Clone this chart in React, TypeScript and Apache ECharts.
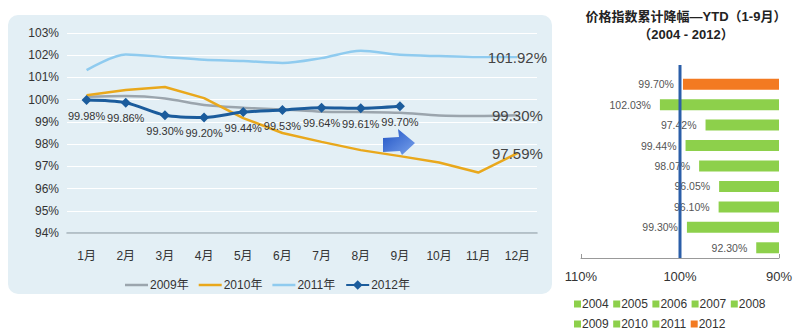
import React, { useEffect, useRef } from "react";
import * as echarts from "echarts";

const months = ["1月", "2月", "3月", "4月", "5月", "6月", "7月", "8月", "9月", "10月", "11月", "12月"];
const s2009 = [100.13, 100.16, 100.05, 99.76, 99.64, 99.56, 99.46, 99.44, 99.41, 99.29, 99.27, 99.3];
const s2010 = [100.2, 100.43, 100.57, 100.07, 99.17, 98.5, 98.1, 97.73, 97.46, 97.17, 96.72, 97.59];
const s2011 = [101.33, 102.03, 101.92, 101.8, 101.74, 101.65, 101.87, 102.2, 102.02, 101.96, 101.92, 101.92];
const s2012 = [99.98, 99.86, 99.3, 99.2, 99.44, 99.53, 99.64, 99.61, 99.7];
const lineNames = ["2009年", "2010年", "2011年", "2012年"];

const years = ["2004", "2005", "2006", "2007", "2008", "2009", "2010", "2011", "2012"];
const ytdValues = [92.3, 99.3, 96.1, 96.05, 98.07, 99.44, 97.42, 102.03, 99.7];
const yAxisTicks = [94, 103];
const barAxisTicks = [90, 110];

const pct = (v: number) => v.toFixed(2) + "%";

export default function App() {
  const ref = useRef<HTMLDivElement>(null);
  useEffect(() => {
    if (!ref.current) return;
    const chart = echarts.init(ref.current, undefined, { renderer: "svg" });
    const font = "Arial, 'Liberation Sans', 'Noto Sans CJK SC', sans-serif";

    const endLabelData = (arr: number[]) =>
      arr.map((v, i) =>
        i === arr.length - 1
          ? {
              value: v,
              symbol: "circle",
              symbolSize: 0.01,
              label: {
                show: true,
                position: "inside",
                formatter: (p: any) => pct(p.value),
                fontSize: 15,
                color: "#444",
                fontFamily: font,
              },
            }
          : v
      );

    const lineSeries: any[] = [
      {
        name: lineNames[0],
        type: "line",
        xAxisIndex: 0,
        yAxisIndex: 0,
        data: endLabelData(s2009),
        smooth: 0.3,
        symbol: "none",
        showSymbol: true,
        lineStyle: { color: "#9ba5ad", width: 2.5 },
        itemStyle: { color: "#9ba5ad" },
        z: 3,
      },
      {
        name: lineNames[1],
        type: "line",
        xAxisIndex: 0,
        yAxisIndex: 0,
        data: endLabelData(s2010),
        symbol: "none",
        showSymbol: true,
        lineStyle: { color: "#e9a81c", width: 2.5 },
        itemStyle: { color: "#e9a81c" },
        z: 3,
      },
      {
        name: lineNames[2],
        type: "line",
        xAxisIndex: 0,
        yAxisIndex: 0,
        data: endLabelData(s2011),
        smooth: 0.3,
        symbol: "none",
        showSymbol: true,
        lineStyle: { color: "#8fcbef", width: 2.5 },
        itemStyle: { color: "#8fcbef" },
        z: 3,
      },
      {
        name: lineNames[3],
        type: "line",
        xAxisIndex: 0,
        yAxisIndex: 0,
        data: s2012,
        smooth: 0.3,
        symbol: "diamond",
        symbolSize: 10,
        lineStyle: { color: "#1b5c9c", width: 3 },
        itemStyle: { color: "#1b5c9c" },
        label: {
          show: true,
          position: "bottom",
          distance: 5,
          formatter: (p: any) => pct(p.value),
          fontSize: 11,
          color: "#333",
          fontFamily: font,
        },
        z: 4,
      },
    ];

    const barSeries: any[] = years.map((y, i) => ({
      name: y,
      type: "bar",
      xAxisIndex: 1,
      yAxisIndex: 1,
      barWidth: 11,
      barGap: "-100%",
      clip: true,
      data: years.map((_, j) => (j === i ? ytdValues[i] : "-")),
      itemStyle: { color: y === "2012" ? "#f37a21" : "#8dd04b" },
      label: {
        show: true,
        position: "left",
        distance: 9,
        formatter: (p: any) => pct(p.value),
        fontSize: 10.5,
        color: "#555",
        fontFamily: font,
      },
      z: 2,
    }));

    const baseGraphic: any[] = [
      {
        type: "rect",
        z: -10,
        shape: { x: 8, y: 15, width: 544, height: 279, r: 10 },
        style: { fill: "#e3eff5" },
      },
      {
        type: "polygon",
        z: 10,
        shape: {
          points: [
            [383, 138],
            [399, 137],
            [398, 129],
            [415, 143],
            [402, 155],
            [400, 151],
            [383, 152],
          ],
        },
        style: {
          fill: new echarts.graphic.LinearGradient(0, 0, 1, 1, [
            { offset: 0, color: "#1f52c4" },
            { offset: 1, color: "#7aa3ec" },
          ]),
        },
      },
    ];

    const lineIcon = "path://M0 0H23V2.5H0Z";
    const lineLegendData = lineNames.map((n, i) => (i < 3 ? { name: n, icon: lineIcon } : { name: n }));

    const barLegend = (names: string[], top: number) => ({
      data: names,
      left: 569,
      top,
      icon: "rect",
      itemWidth: 7,
      itemHeight: 7,
      itemGap: 4.5,
      textStyle: { color: "#333", fontSize: 12, fontFamily: font, padding: [0, 0, 0, -4] },
    });

    const option: any = {
      animation: false,
      backgroundColor: "#ffffff",
      textStyle: { fontFamily: font },
      title: {
        text: "价格指数累计降幅—YTD（1-9月）\n（2004 - 2012）",
        left: 681,
        top: 2,
        textAlign: "center",
        textStyle: { fontSize: 13, fontWeight: "bold", color: "#222", lineHeight: 18, fontFamily: font },
      },
      grid: [
        { left: 67, right: 263, top: 33, bottom: 103 },
        { left: 581, right: 21, top: 74, bottom: 78 },
      ],
      xAxis: [
        {
          type: "category",
          gridIndex: 0,
          data: months,
          boundaryGap: true,
          axisLine: { lineStyle: { color: "#a3b1b9", width: 1.5 } },
          axisTick: { show: false },
          axisLabel: { color: "#333", fontSize: 12, margin: 17, fontFamily: font },
        },
        {
          type: "value",
          gridIndex: 1,
          min: barAxisTicks[0],
          max: barAxisTicks[1],
          interval: 10,
          inverse: true,
          axisLine: { show: true, lineStyle: { color: "#999", width: 1 } },
          axisTick: { show: true, inside: true, length: 4, lineStyle: { color: "#999" } },
          splitLine: { show: false },
          axisLabel: { color: "#333", fontSize: 13, margin: 12, formatter: "{value}%", fontFamily: font },
        },
      ],
      yAxis: [
        {
          type: "value",
          gridIndex: 0,
          min: yAxisTicks[0],
          max: yAxisTicks[1],
          interval: 1,
          axisLine: { show: false },
          axisTick: { show: false },
          splitLine: { lineStyle: { color: "#ffffff", width: 1 } },
          axisLabel: { color: "#333", fontSize: 12, margin: 8, formatter: "{value}%", fontFamily: font },
        },
        {
          type: "category",
          gridIndex: 1,
          data: years,
          show: false,
        },
      ],
      legend: [
        {
          data: lineLegendData,
          left: 120,
          top: 274,
          itemWidth: 23,
          itemHeight: 12,
          itemGap: 10,
          textStyle: { color: "#333", fontSize: 12, fontFamily: font, padding: [0, 0, 0, -3] },
        },
        barLegend(years.slice(0, 5), 293),
        barLegend(years.slice(5), 313),
      ],
      graphic: baseGraphic,
      series: [...lineSeries, ...barSeries],
    };

    chart.setOption(option);
    const px = chart.convertToPixel({ xAxisIndex: 1 }, 100) as number;
    chart.setOption({
      graphic: [
        ...baseGraphic,
        {
          type: "line",
          z: 10,
          shape: { x1: px, y1: 65, x2: px, y2: 258 },
          style: { stroke: "#2b5ea8", lineWidth: 3 },
        },
      ],
    });

    return () => chart.dispose();
  }, []);

  return (
    <div
      ref={ref}
      style={{ position: "fixed", left: 0, top: 0, width: 800, height: 336, background: "#fff" }}
    />
  );
}
